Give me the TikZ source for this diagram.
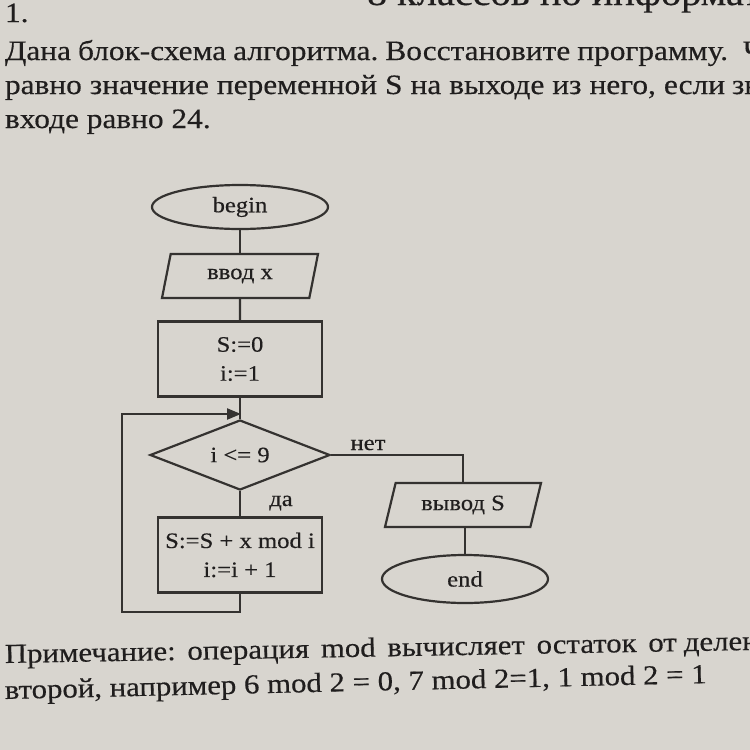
\documentclass[tikz,border=0pt]{standalone}
\usepackage{fontspec}
\setmainfont[FakeStretch=1.12,FakeBold=0.4]{Liberation Serif}
\usetikzlibrary{shapes.geometric,arrows.meta}
\definecolor{bg}{RGB}{216,213,207}
\definecolor{ink}{RGB}{32,30,30}
\definecolor{linec}{RGB}{52,50,48}
\newcommand\wsp{\hskip 0.25em plus 1fill}
\tikzset{
  txt/.style={inner sep=0pt, outer sep=0pt, anchor=base west, text=ink, font=\fontsize{28}{32}\selectfont},
  txtb/.style={txt, font=\fontsize{27.5}{32}\selectfont},
  fc/.style={font=\fontsize{22}{29}\selectfont, text=ink, draw=linec, line width=2.2pt, inner sep=2pt},
  term/.style={fc, ellipse, minimum width=176pt, minimum height=44pt},
  io/.style={fc, trapezium, trapezium left angle=65, trapezium right angle=115, trapezium stretches body, minimum width=156pt, minimum height=44pt},
  proc/.style={fc, rectangle, minimum width=164pt, minimum height=75pt, align=center},
  dec/.style={fc, diamond, aspect=2.57, minimum width=180pt, minimum height=70pt},
  conn/.style={draw=linec, line width=2.2pt},
  lbl/.style={inner sep=0pt, anchor=base, text=ink, font=\fontsize{22}{26}\selectfont}
}
\begin{document}
\begin{tikzpicture}[x=1pt,y=-1pt]
\useasboundingbox (0,0) rectangle (750,750);
\clip (0,0) rectangle (750,750);
\fill[bg] (0,0) rectangle (750,750);

% header text
\node[txt, font=\fontsize{36}{40}\selectfont] (t0) at (367,5) {8 классов по информатике};
\node[txt] (t1) at (5,22) {1.};
\node[txt] (t2) at (5,60) {\hbox{\hbox to 723pt{Дана\wsp блок-схема\wsp алгоритма.\wsp Восстановите\wsp программу.}\hskip 15pt Чему}};
\node[txt] (t3) at (5,94) {\hbox{\hbox to 720pt{равно\wsp значение\wsp переменной\wsp S\wsp на\wsp выходе\wsp из\wsp него,\wsp если}\hskip 7pt значение x на}};
\node[txt] (t4) at (5,128) {входе равно 24.};

% flowchart
\node[term] (begin) at (240,207) {begin};
\node[io] (vvod) at (240,276) {ввод x};
\node[proc] (init) at (240,359) {S:=0\\i:=1};
\node[dec] (cond) at (240,455) {i <= 9};
\node[proc] (body) at (240,555) {S:=S + x mod i\\i:=i + 1};
\node[io] (vyvod) at (463,505) {вывод S};
\node[term, minimum width=166pt, minimum height=48pt] (end) at (465,579) {end};

\node[lbl] (lno) at (368,450) {нет};
\node[lbl] (lyes) at (281,506) {да};

\coordinate (lb) at (122,612);
\coordinate (lt) at (122,414);
\coordinate (jt) at (241,414);

\draw[conn] (begin) -- (vvod);
\draw[conn] (vvod) -- (init);
\draw[conn] (init) -- (cond);
\draw[conn] (cond) -- (body);
\draw[conn] (cond.east) -| (vyvod.north);
\draw[conn] (vyvod.south -| end.north) -- (end.north);
\draw[conn, -{Triangle[length=14pt,width=11pt]}] (body.south) |- (lb) -- (lt) -- (jt);

% note text
\node[txtb, rotate=1.0] (n1) at (5,663) {\hbox{\hbox to 672pt{Примечание:\wsp операция\wsp mod\wsp вычисляет\wsp остаток\wsp от}\hskip 7pt деления первого}};
\node[txtb, rotate=1.3] (n2) at (5,699) {второй, например 6 mod 2 = 0, 7 mod 2=1, 1 mod 2 = 1};
\end{tikzpicture}
\end{document}
